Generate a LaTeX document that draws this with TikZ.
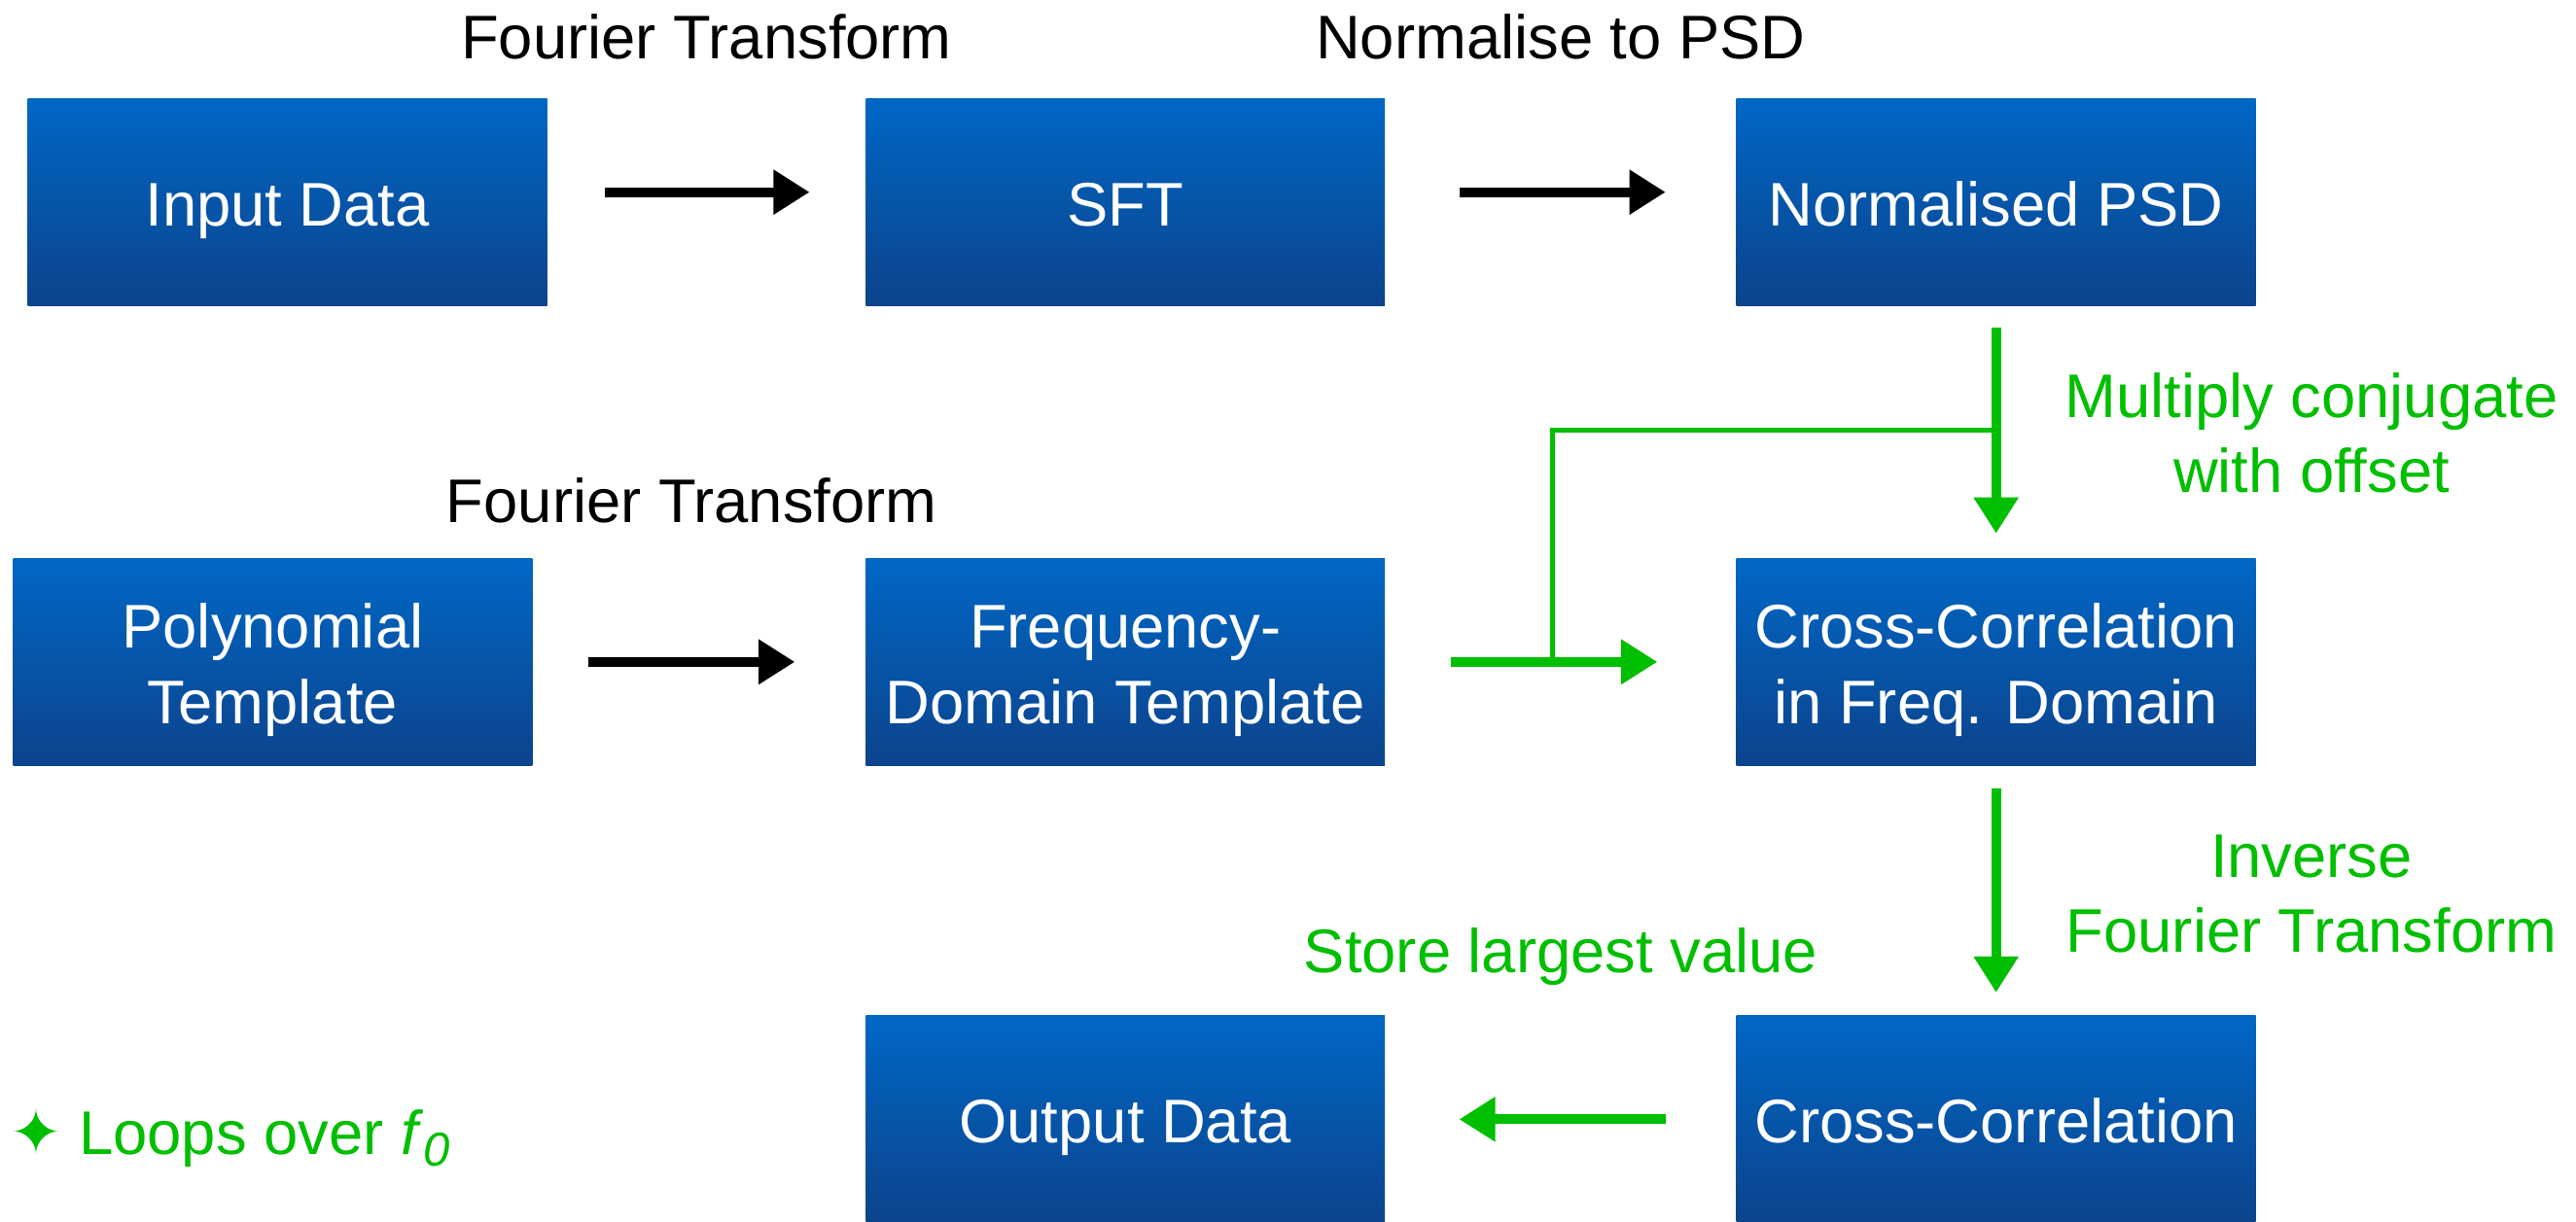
\documentclass[tikz,border=0pt]{standalone}
\usepackage{fontspec}
\setmainfont{Liberation Sans}
\newfontfamily\symfont{DejaVu Sans}
\usetikzlibrary{arrows.meta}
\definecolor{grn}{RGB}{0,190,0}
\definecolor{btop}{RGB}{0,103,197}
\definecolor{bbot}{RGB}{12,67,140}
\begin{document}
\begin{tikzpicture}[x=1pt,y=-1pt, font=\fontsize{37.5}{46}\selectfont,
  box/.style={minimum width=316pt, minimum height=126pt, inner sep=0pt, text height=28.8pt, text depth=0pt, top color=btop, bottom color=bbot, draw=none, text=white, align=center},
  twoline/.style={text height=74.8pt},
  lbl/.style={inner sep=0pt, align=center},
  blk/.style={line width=6pt, -{Triangle[length=22pt,width=26pt]}},
  gar/.style={line width=6pt, draw=grn, fill=grn, -{Triangle[length=22pt,width=26pt]}},
  branch/.style={line width=3.3pt, draw=grn}]
\useasboundingbox (0,0) rectangle (1568,744);
% boxes
\node[box] (in)   at (175,123)   {Input Data};
\node[box] (sft)  at (685,123)   {SFT};
\node[box] (psd)  at (1215,123)  {Normalised PSD};
\node[box, twoline] (poly) at (166,403)   {Polynomial\\Template};
\node[box, twoline] (fdt)  at (685,403)   {Frequency-\\Domain Template};
\node[box, twoline] (ccf)  at (1215,403)  {Cross-Correlation\\in Freq. Domain};
\node[box] (out)  at (685,681.5) {Output Data};
\node[box] (cc)   at (1215,681.5){Cross-Correlation};
% labels
\node[lbl, anchor=base] (l1) at (430,36) {Fourier Transform};
\node[lbl, anchor=base] (l2) at (950,36) {Normalise to PSD};
\node[lbl, anchor=base] (l3) at (421,318) {Fourier Transform};
\node[lbl, anchor=base, text=grn] (l4) at (1407,300) {Multiply conjugate\\with offset};
\node[lbl, anchor=base, text=grn] (l5) at (1407,580) {Inverse\\Fourier Transform};
\node[lbl, anchor=base, text=grn] (l6) at (950,592) {Store largest value};
\node[lbl, anchor=base west, text=grn] (loop) at (6,703) {{\symfont\fontsize{38}{38}\selectfont ✦}\hspace{10pt}Loops over \textit{f}\raisebox{-0.35ex}{\fontsize{29}{29}\selectfont\itshape 0}};
% black arrows
\draw[blk] ([xshift=35pt,yshift=6pt]in.east) -- ([xshift=-34pt,yshift=6pt]sft.west);
\draw[blk] ([xshift=45pt,yshift=6pt]sft.east) -- ([xshift=-43pt,yshift=6pt]psd.west);
\draw[blk] ([xshift=34pt]poly.east) -- ([xshift=-43pt]fdt.west);
% green arrows
\draw[gar] ([xshift=40pt]fdt.east) -- ([xshift=-48pt]ccf.west);
\draw[gar] ([yshift=-13pt]psd.south) -- ([yshift=15pt]ccf.north);
\draw[gar] ([yshift=-14pt]ccf.south) -- ([yshift=14pt]cc.north);
\draw[gar] ([xshift=-43pt]cc.west) -- ([xshift=45pt]out.east);
% branch
\coordinate (j1) at (945,403);
\coordinate (j2) at (1215,262);
\draw[branch] (j1) |- (j2);
\end{tikzpicture}
\end{document}
